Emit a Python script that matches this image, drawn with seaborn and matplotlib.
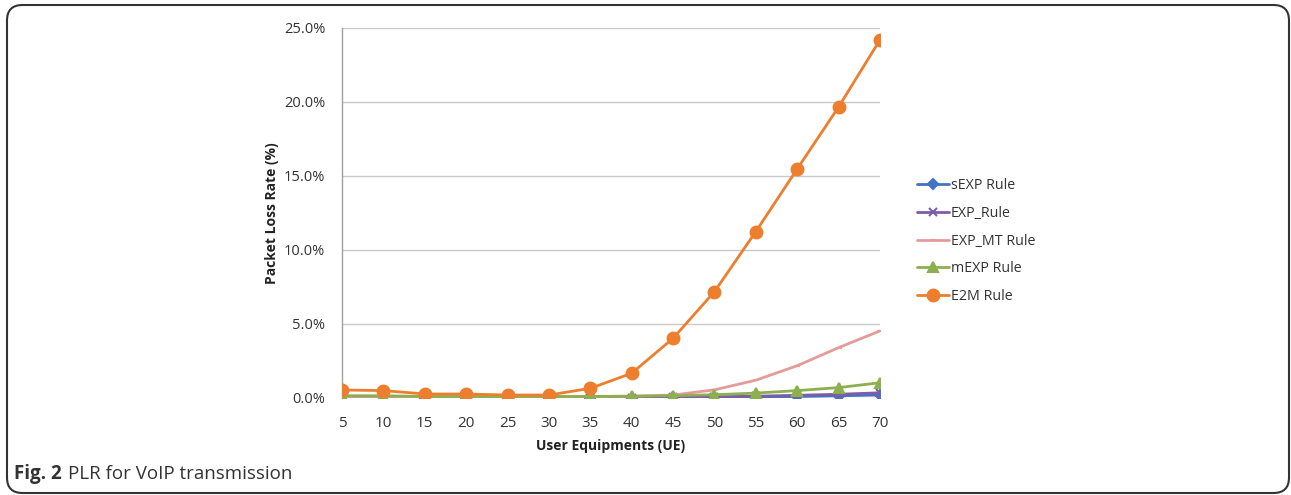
import matplotlib
matplotlib.use("Agg")
import matplotlib.pyplot as plt
from matplotlib.patches import FancyBboxPatch
import seaborn as sns
import pandas as pd

# User equipment counts (x categories)
ue = [5, 10, 15, 20, 25, 30, 35, 40, 45, 50, 55, 60, 65, 70]

# Packet loss rate per scheduling rule, in percent
sexp = [0.05, 0.05, 0.03, 0.03, 0.03, 0.03, 0.03, 0.03, 0.05, 0.05, 0.08, 0.10, 0.15, 0.20]
exp_rule = [0.05, 0.05, 0.03, 0.03, 0.03, 0.03, 0.03, 0.03, 0.05, 0.08, 0.12, 0.18, 0.25, 0.35]
exp_mt = [0.10, 0.10, 0.08, 0.08, 0.08, 0.08, 0.10, 0.12, 0.20, 0.55, 1.20, 2.18, 3.40, 4.53]
mexp = [0.15, 0.15, 0.10, 0.10, 0.10, 0.10, 0.10, 0.12, 0.15, 0.22, 0.33, 0.50, 0.70, 1.03]
e2m = [0.54, 0.50, 0.27, 0.27, 0.20, 0.20, 0.65, 1.67, 4.03, 7.18, 11.24, 15.47, 19.66, 24.19]

series_names = ["sEXP Rule", "EXP_Rule", "EXP_MT Rule", "mEXP Rule", "E2M Rule"]
series_values = [sexp, exp_rule, exp_mt, mexp, e2m]
y_ticks = [0, 5, 10, 15, 20, 25]

styles = {
    "sEXP Rule":   dict(color="#4472C4", marker="D", ms=5),
    "EXP_Rule":    dict(color="#7B5EA7", marker="x", ms=6),
    "EXP_MT Rule": dict(color="#E39C9A", marker="_", ms=5),
    "mEXP Rule":   dict(color="#8DB04E", marker="^", ms=7),
    "E2M Rule":    dict(color="#EC7E2E", marker="o", ms=8.5),
}

rows = []
for name, vals in zip(series_names, series_values):
    for x, v in zip(ue, vals):
        rows.append({"UE": x, "PLR": v, "Rule": name})
df = pd.DataFrame(rows)

sns.set_theme(style="white")
plt.rcParams["font.family"] = ["Open Sans", "DejaVu Sans"]

fig = plt.figure(figsize=(12.91, 4.95), dpi=100)
ax = fig.add_axes([0.2649, 0.196, 0.4167, 0.7475])

for name in series_names:
    st = styles[name]
    sns.lineplot(
        data=df[df["Rule"] == name], x="UE", y="PLR", ax=ax,
        color=st["color"], marker=st["marker"], markersize=st["ms"],
        markeredgecolor=st["color"], markeredgewidth=1.5,
        linewidth=2.0, label=name, zorder=3,
    )

ax.set_xlim(5, 70)
ax.set_ylim(0, 25)
ax.set_xticks(ue)
ax.set_xticklabels([str(v) for v in ue], fontsize=11, color="#333333")
ax.set_yticks(y_ticks)
ax.set_yticklabels([f"{v:.1f}%" for v in y_ticks], fontsize=10.5, color="#333333")
ax.tick_params(axis="x", length=0, pad=13)
ax.tick_params(axis="y", length=0, pad=12)
ax.yaxis.grid(True, color="#C8C8C8", linewidth=1.0)
ax.xaxis.grid(False)
for side in ["top", "right", "bottom"]:
    ax.spines[side].set_visible(False)
ax.spines["left"].set_color("#A0A0A0")
ax.spines["left"].set_linewidth(1.0)

ax.set_xlabel("User Equipments (UE)", fontsize=10, fontweight="bold", color="#222222", labelpad=6)
ax.set_ylabel("Packet Loss Rate (%)", fontsize=10, fontweight="bold", color="#222222")
ax.yaxis.set_label_coords(-0.117, 0.5)

leg = ax.legend(
    loc="center left", bbox_to_anchor=(1.045, 0.424), frameon=False,
    fontsize=10.3, handlelength=2.2, handletextpad=0.15, labelspacing=0.88,
    labelcolor="#333333",
)

# Rounded border around the whole figure
border = FancyBboxPatch(
    (7 / 1291, 1 - 493 / 495), (1282 / 1291), (488 / 495),
    boxstyle="round,pad=0,rounding_size=0.012",
    transform=fig.transFigure, fill=False, edgecolor="#333333", linewidth=1.5,
    mutation_aspect=1291 / 495,
)
fig.patches.append(border)

cap_y = 1 - 474 / 495
t1 = fig.text(14 / 1291, cap_y, "Fig. 2", fontsize=13.5, fontweight="bold",
              color="#333333", va="center", ha="left")
fig.canvas.draw()
bb = t1.get_window_extent(renderer=fig.canvas.get_renderer())
fig.text(bb.x1 / fig.bbox.width + 6 / 1291, cap_y, "PLR for VoIP transmission",
         fontsize=13.5, color="#333333", va="center", ha="left")

fig.savefig("out.png", dpi=100)
